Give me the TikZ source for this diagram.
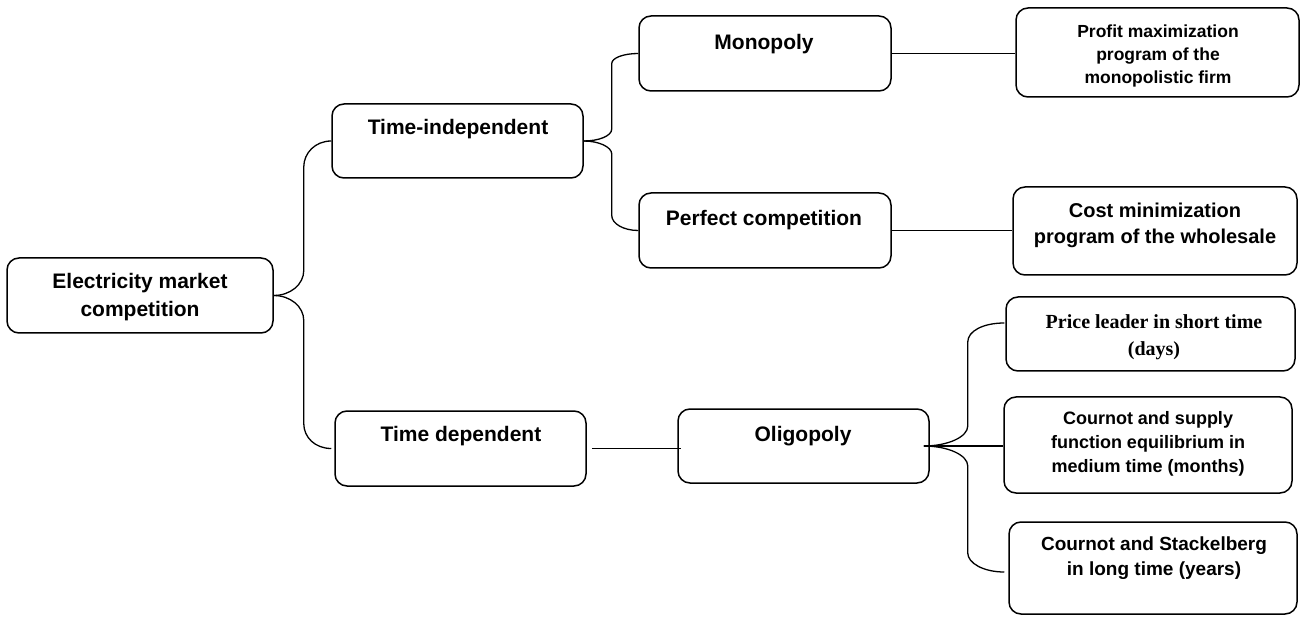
\documentclass[tikz,border=0pt]{standalone}
\usepackage{fontspec}
\setmainfont{Liberation Sans}
\newfontfamily\timesfam{Liberation Serif}
\usetikzlibrary{calc}
\tikzset{
  box/.style={draw, line width=1.5pt, rounded corners=12pt, inner sep=0pt},
  conn/.style={line width=1.3pt},
  lbl/.style={font=\bfseries\fontsize{21pt}{28pt}\selectfont, align=center, inner sep=0pt},
}
\begin{document}
\begin{tikzpicture}[x=1pt,y=-1pt]
\useasboundingbox (0,0) rectangle (1301,617);
% boxes
\node[box, minimum width=266pt, minimum height=75pt] (em) at (140,295.5) {};
\node[box, minimum width=251pt, minimum height=74pt] (ti) at (457.5,141) {};
\node[box, minimum width=251pt, minimum height=75pt] (td) at (460.5,448.5) {};
\node[box, minimum width=252pt, minimum height=75pt] (mo) at (765,53.5) {};
\node[box, minimum width=252pt, minimum height=75pt] (pc) at (765,230.5) {};
\node[box, minimum width=283pt, minimum height=89pt] (pm) at (1157.5,52.5) {};
\node[box, minimum width=284pt, minimum height=88pt] (cm) at (1155,231) {};
\node[box, minimum width=251pt, minimum height=74pt] (ol) at (803.5,446) {};
\node[box, minimum width=289pt, minimum height=74pt] (pl) at (1150.5,334) {};
\node[box, minimum width=288pt, minimum height=96pt] (cs) at (1148,445) {};
\node[box, minimum width=288pt, minimum height=92pt] (sb) at (1153,568) {};
% texts
\node[lbl] (em-t) at (140,297) {Electricity market\\competition};
\node[lbl, anchor=base] (ti-t) at (458,134.5) {Time-independent};
\node[lbl, anchor=base] (td-t) at (461,441.5) {Time dependent};
\node[lbl, anchor=base] (mo-t) at (764,49.5) {Monopoly};
\node[lbl, anchor=base] (pc-t) at (764,225.5) {Perfect competition};
\node[lbl, anchor=base] (ol-t) at (803,441.5) {Oligopoly};
\node[lbl, font=\bfseries\fontsize{17.5pt}{23pt}\selectfont] (pm-t) at (1158,56)
  {Profit maximization\\program of the\\monopolistic firm};
\node[lbl, font=\bfseries\fontsize{20pt}{26pt}\selectfont] (cm-t) at (1155,225)
  {Cost minimization\\program of the wholesale};
\node[lbl, font=\timesfam\bfseries\fontsize{20pt}{27pt}\selectfont] (pl-t) at (1154,337)
  {Price leader in short time\\(days)};
\node[lbl, font=\bfseries\fontsize{18pt}{24pt}\selectfont] (cs-t) at (1148,444)
  {Cournot and supply\\function equilibrium in\\medium time (months)};
\node[lbl, font=\bfseries\fontsize{19pt}{25pt}\selectfont] (sb-t) at (1154,558)
  {Cournot and Stackelberg\\in long time (years)};
% spine coordinates
\coordinate (s1) at ($(em.east)+(30,0)$);
\coordinate (s2) at ($(ti.east)+(28,0)$);
\coordinate (o3) at ($(ol.east)+(-6,0)$);
\coordinate (s3) at ($(ol.east)+(38,0)$);
% brace 1
\draw[conn] (em.east) .. controls +(16.5,0) and +(0,14) .. ($(s1)+(0,-25)$)
  -- ($(s1 |- ti.west)+(0,26)$) .. controls +(0,-14) and +(-16,0) .. (ti.west);
\draw[conn] (em.east) .. controls +(16.5,0) and +(0,-14) .. ($(s1)+(0,25)$)
  -- ($(s1 |- td.west)+(0,-25)$) .. controls +(0,14) and +(-16,0) .. ([xshift=-3pt]td.west);
% brace 2
\draw[conn] (ti.east) .. controls +(15,0) and +(0,7) .. ($(s2)+(0,-12)$)
  -- ($(s2 |- mo.west)+(0,10)$) .. controls +(0,-5.5) and +(-15,0) .. (mo.west);
\draw[conn] (ti.east) .. controls +(15,0) and +(0,-7) .. ($(s2)+(0,13)$)
  -- ($(s2 |- pc.west)+(0,-15)$) .. controls +(0,8) and +(-15,0) .. (pc.west);
% brace 3
\draw[conn] (o3) .. controls +(24,0) and +(0,11) .. ($(s3)+(0,-20)$)
  -- ($(s3 |- pl.west)+(0,8)$) .. controls +(0,-11) and +(-21,0) .. ([xshift=-1pt,yshift=11pt]pl.west);
\draw[conn] (o3) -- (o3 -| cs.west);
\draw[conn] (o3) .. controls +(24,0) and +(0,-11) .. ($(s3)+(0,20)$)
  -- ($(s3 |- sb.west)+(0,-15)$) .. controls +(0,10) and +(-21,0) .. ([xshift=-4pt,yshift=-4pt]sb.west);
% straight links
\draw[conn] ([xshift=5pt]td.east) -- ([xshift=4pt]td.east -| ol.west);
\draw[conn] (mo.east) -- (mo.east -| pm.west);
\draw[conn] (pc.east) -- (pc.east -| cm.west);
\end{tikzpicture}
\end{document}
